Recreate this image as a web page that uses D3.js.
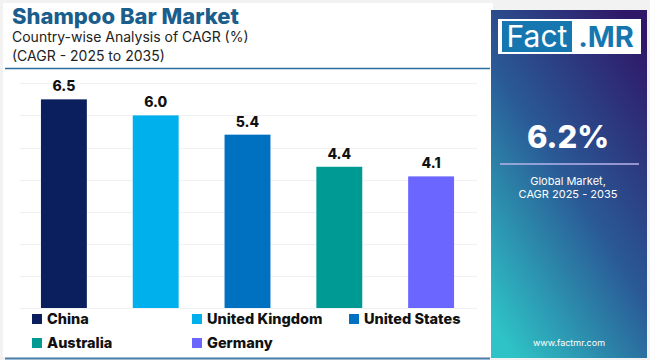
<!DOCTYPE html>
<html><head><meta charset="utf-8">
<script src="https://cdn.jsdelivr.net/npm/d3@7"></script>
<style>body{margin:0;background:#fff;}svg{display:block;}</style>
</head><body>
<svg id="c" width="650" height="360"></svg>
<script>
const categories = ["China","United Kingdom","United States","Australia","Germany"];
const values = [6.5, 6.0, 5.4, 4.4, 4.1];
const colors = ["#0b1f5e","#00b0ec","#0070c0","#009a94","#6b66ff"];
const yTicks = [0,1,2,3,4,5,6,7];
const title = "Shampoo Bar Market";
const subtitle1 = "Country-wise Analysis of CAGR (%)";
const subtitle2 = "(CAGR - 2025 to 2035)";
const globalValue = "6.2%";
const globalLabel = ["Global Market,", "CAGR 2025 - 2035"];

const F = "Inter, 'Open Sans', sans-serif";
const svg = d3.select("#c");

// background frame
svg.append("rect").attr("x",0).attr("y",0).attr("width",650).attr("height",360).attr("fill","#f2f2f2");
svg.append("rect").attr("x",3).attr("y",3).attr("width",490).attr("height",354).attr("fill","#fff");
svg.append("line").attr("x1",5).attr("x2",490).attr("y1",68.5).attr("y2",68.5).attr("stroke","#2b6e9e").attr("stroke-width",1.3);
svg.append("line").attr("x1",5).attr("x2",490).attr("y1",358.5).attr("y2",358.5).attr("stroke","#4a7fae").attr("stroke-width",2);

// titles
svg.append("text").attr("x",12).attr("y",24).text(title)
  .attr("font-family",F).attr("font-weight",800).attr("font-size",22).attr("fill","#1b5e8c");
svg.append("text").attr("x",12).attr("y",42).text(subtitle1)
  .attr("font-family",F).attr("font-size",14).attr("fill","#222");
svg.append("text").attr("x",12).attr("y",61).text(subtitle2)
  .attr("font-family",F).attr("font-size",14).attr("fill","#222");

// chart
const x = d3.scaleBand().domain(categories).range([18,477]).paddingInner(0.5).paddingOuter(0.25);
const y = d3.scaleLinear().domain([0,7]).range([308,83.3]);

const g = svg.append("g");
g.selectAll(".grid").data(yTicks).join("line")
  .attr("x1",20).attr("x2",477).attr("y1",d=>Math.round(y(d))+0.5).attr("y2",d=>Math.round(y(d))+0.5)
  .attr("stroke","#f0f0f5").attr("stroke-width",1);

g.selectAll(".bar").data(values).join("rect")
  .attr("x",(d,i)=>x(categories[i])).attr("width",x.bandwidth())
  .attr("y",d=>y(d)).attr("height",d=>y(0)-y(d))
  .attr("fill",(d,i)=>colors[i]);

g.selectAll(".lbl").data(values).join("text")
  .attr("x",(d,i)=>x(categories[i])+x.bandwidth()/2).attr("y",d=>y(d)-8)
  .attr("text-anchor","middle").text(d=>d.toFixed(1))
  .attr("font-family",F).attr("font-weight",800).attr("font-size",14).attr("fill","#111");

// legend
const legPos = [[32,319],[192,319],[349,319],[32,343],[192,343]];
const lg = svg.append("g");
categories.forEach((c,i)=>{
  const [lx,ly] = legPos[i];
  lg.append("rect").attr("x",lx).attr("y",ly-5).attr("width",10).attr("height",10).attr("fill",colors[i]);
  lg.append("text").attr("x",lx+15).attr("y",ly+5).text(c)
    .attr("font-family",F).attr("font-weight",800).attr("font-size",14.5).attr("fill","#111");
});

// right panel
const defs = svg.append("defs");
const grad = defs.append("linearGradient").attr("id","pg").attr("x1","0.15").attr("y1","1").attr("x2","0.85").attr("y2","0");
grad.append("stop").attr("offset","0").attr("stop-color","#2ec3c6");
grad.append("stop").attr("offset","0.5").attr("stop-color","#2a5a96");
grad.append("stop").attr("offset","1").attr("stop-color","#2f1868");
svg.append("rect").attr("x",491).attr("y",10).attr("width",156).attr("height",348).attr("fill","url(#pg)");

// logo
svg.append("rect").attr("x",498).attr("y",19).attr("width",143).attr("height",35).attr("fill","#fff");
svg.append("rect").attr("x",502).attr("y",21).attr("width",70).attr("height",31).attr("fill","#1677b0");
svg.append("text").attr("x",537).attr("y",47).attr("text-anchor","middle").text("Fact")
  .attr("font-family",F).attr("font-size",30).attr("fill","#fff");
svg.append("text").attr("x",606).attr("y",47).attr("text-anchor","middle").text(".MR")
  .attr("font-family",F).attr("font-weight",700).attr("font-size",29).attr("fill","#1677b0");

svg.append("text").attr("x",568).attr("y",148).attr("text-anchor","middle").text(globalValue)
  .attr("font-family",F).attr("font-weight",800).attr("font-size",31).attr("fill","#fff");
svg.append("line").attr("x1",500).attr("x2",639).attr("y1",164).attr("y2",164).attr("stroke","#b7b5e8").attr("stroke-width",1.5);
globalLabel.forEach((t,i)=>{
  svg.append("text").attr("x",568).attr("y",185+i*13).attr("text-anchor","middle").text(t)
    .attr("font-family",F).attr("font-size",11).attr("fill","#fff");
});
svg.append("text").attr("x",569).attr("y",346).attr("text-anchor","middle").text("www.factmr.com")
  .attr("font-family",F).attr("font-size",9).attr("fill","#fff");
</script>
</body></html>
